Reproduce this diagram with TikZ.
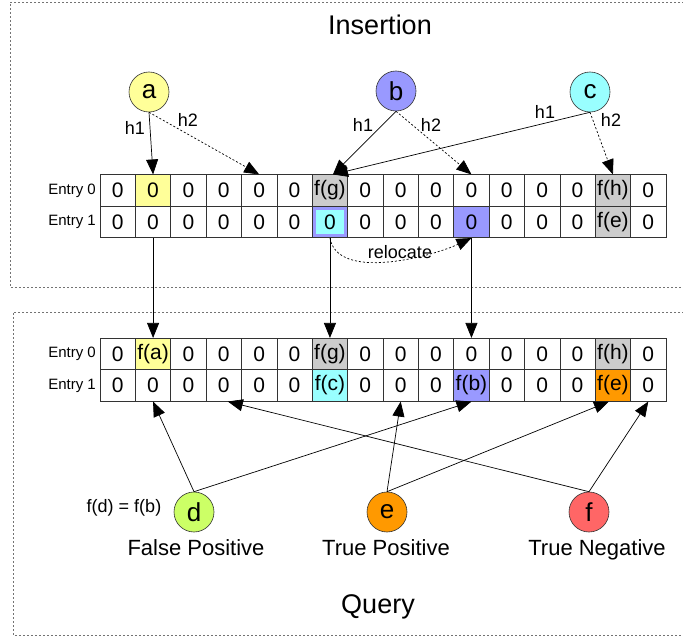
\documentclass[tikz,border=0pt]{standalone}
\usepackage{fontspec}
\setmainfont{Liberation Sans}
\usetikzlibrary{arrows.meta}
\definecolor{keyyellow}{HTML}{FFFF99}
\definecolor{keyblue}{HTML}{9999FF}
\definecolor{keycyan}{HTML}{99FFFF}
\definecolor{keygray}{HTML}{CCCCCC}
\definecolor{keygreen}{HTML}{CCFF66}
\definecolor{keyorange}{HTML}{FF9900}
\definecolor{keyred}{HTML}{FF6666}
\tikzset{
  cell/.style={rectangle, draw=black!80, line width=0.6pt, minimum width=35.375pt,
    minimum height=31.5pt, inner sep=0pt, font=\fontsize{21}{24}\selectfont},
  key/.style={circle, draw=black!80, line width=0.6pt, minimum size=40pt, inner sep=0pt,
    font=\fontsize{26}{28}\selectfont},
  hash/.style={-{Triangle[length=15pt,width=12pt]}, draw=black, line width=0.7pt},
  hashalt/.style={hash, dash pattern=on 2pt off 2pt},
  lbl/.style={font=\fontsize{18}{20}\selectfont},
  entry/.style={font=\fontsize{15}{17}\selectfont, anchor=east, inner sep=1pt},
  title/.style={font=\fontsize{27}{30}\selectfont},
  result/.style={font=\fontsize{22}{24}\selectfont, anchor=base},
  frame/.style={draw=black!55, line width=0.8pt, dash pattern=on 2pt off 2pt},
}
\newcommand{\colx}[1]{117.7+35.375*#1}
\begin{document}
\begin{tikzpicture}[x=1pt, y=-1pt]
\useasboundingbox (0,0) rectangle (683,639);
% frames
\draw[frame] (700,2) -- (10,2) -- (10,287) -- (700,287);
\draw[frame] (700,312) -- (13,312) -- (13,635) -- (700,635);
\node[title] (institle) at (380,25) {Insertion};
\node[title] (qrytitle) at (378,607) {Query};
% insertion table
\foreach \r/\y in {0/190.5, 1/222} {
  \node[entry] (insl\r) at (97,\y) {Entry \r};
  \foreach \i in {0,2,3,4,5,7,8,9,11,12,13,15}
    \node[cell] (ins\r-\i) at ({\colx{\i}},\y) {0};
}
\node[cell, fill=keyyellow] (ins0-1) at ({\colx{1}},190.5) {0};
\node[cell, fill=keygray] (ins0-6) at ({\colx{6}},190.5) {f(g)};
\node[cell] (ins0-10) at ({\colx{10}},190.5) {0};
\node[cell, fill=keygray] (ins0-14) at ({\colx{14}},190.5) {f(h)};
\node[cell] (ins1-1) at ({\colx{1}},222) {0};
\node[cell, fill=keyblue] (ins1-6) at ({\colx{6}},222) {};
\node[cell, draw=none, fill=keycyan, minimum width=28pt, minimum height=24pt] (moved) at (ins1-6) {0};
\node[cell, fill=keyblue] (ins1-10) at ({\colx{10}},222) {0};
\node[cell, fill=keygray] (ins1-14) at ({\colx{14}},222) {f(e)};
% query table
\foreach \r/\y in {0/354, 1/385.5} {
  \node[entry] (qryl\r) at (97,\y) {Entry \r};
  \foreach \i in {0,2,3,4,5,7,8,9,11,12,13,15}
    \node[cell] (qry\r-\i) at ({\colx{\i}},\y) {0};
}
\node[cell, fill=keyyellow] (qry0-1) at ({\colx{1}},354) {f(a)};
\node[cell, fill=keygray] (qry0-6) at ({\colx{6}},354) {f(g)};
\node[cell] (qry0-10) at ({\colx{10}},354) {0};
\node[cell, fill=keygray] (qry0-14) at ({\colx{14}},354) {f(h)};
\node[cell] (qry1-1) at ({\colx{1}},385.5) {0};
\node[cell, fill=keycyan] (qry1-6) at ({\colx{6}},385.5) {f(c)};
\node[cell, fill=keyblue] (qry1-10) at ({\colx{10}},385.5) {f(b)};
\node[cell, fill=keyorange] (qry1-14) at ({\colx{14}},385.5) {f(e)};
% inserted keys
\node[key, fill=keyyellow] (a) at (149,92) {a};
\node[key, fill=keyblue] (b) at (396,91) {b};
\node[key, fill=keycyan] (c) at (590,92) {c};
\draw[hash] (a.south) -- (ins0-1.north);
\draw[hashalt] (a.south) -- (ins0-4.north);
\draw[hash] (b.south) -- ([xshift=3pt]ins0-6.north);
\draw[hashalt] (b.south) -- (ins0-10.north);
\draw[hash] (c.south) -- ([xshift=3pt]ins0-6.north);
\draw[hashalt] (c.south) -- (ins0-14.north);
\node[lbl] (ah1) at (135,128) {h1};
\node[lbl] (ah2) at (188,120) {h2};
\node[lbl] (bh1) at (363,125) {h1};
\node[lbl] (bh2) at (431,125) {h2};
\node[lbl] (ch1) at (545,112) {h1};
\node[lbl] (ch2) at (611,120) {h2};
\draw[hashalt] (ins1-6.south) to[out=-80, in=-155, looseness=0.8] (ins1-10.south);
\node[lbl] (reloc) at (400,252) {relocate};
\foreach \i in {1,6,10} \draw[hash] (ins1-\i.south) -- (qry0-\i.north);
% query keys
\node[key, fill=keygreen] (d) at (194,512) {d};
\node[key, fill=keyorange] (e) at (387,512) {e};
\node[key, fill=keyred] (f) at (589,512) {f};
\node[lbl] (same) at (124,508) {f(d) = f(b)};
\node[result] (fp) at (196,555) {False Positive};
\node[result] (tp) at (386,555) {True Positive};
\node[result] (tn) at (597,555) {True Negative};
\draw[hash] (d.north) -- (qry1-1.south);
\draw[hash] (d.north) -- (qry1-10.south);
\draw[hash] (e.north) -- (qry1-8.south);
\draw[hash] (e.north) -- ([xshift=-4pt]qry1-14.south);
\draw[hash] (f.north) -- (qry1-15.south);
\draw[hash] (f.north) -- ([xshift=4pt]qry1-3.south);
\end{tikzpicture}
\end{document}
